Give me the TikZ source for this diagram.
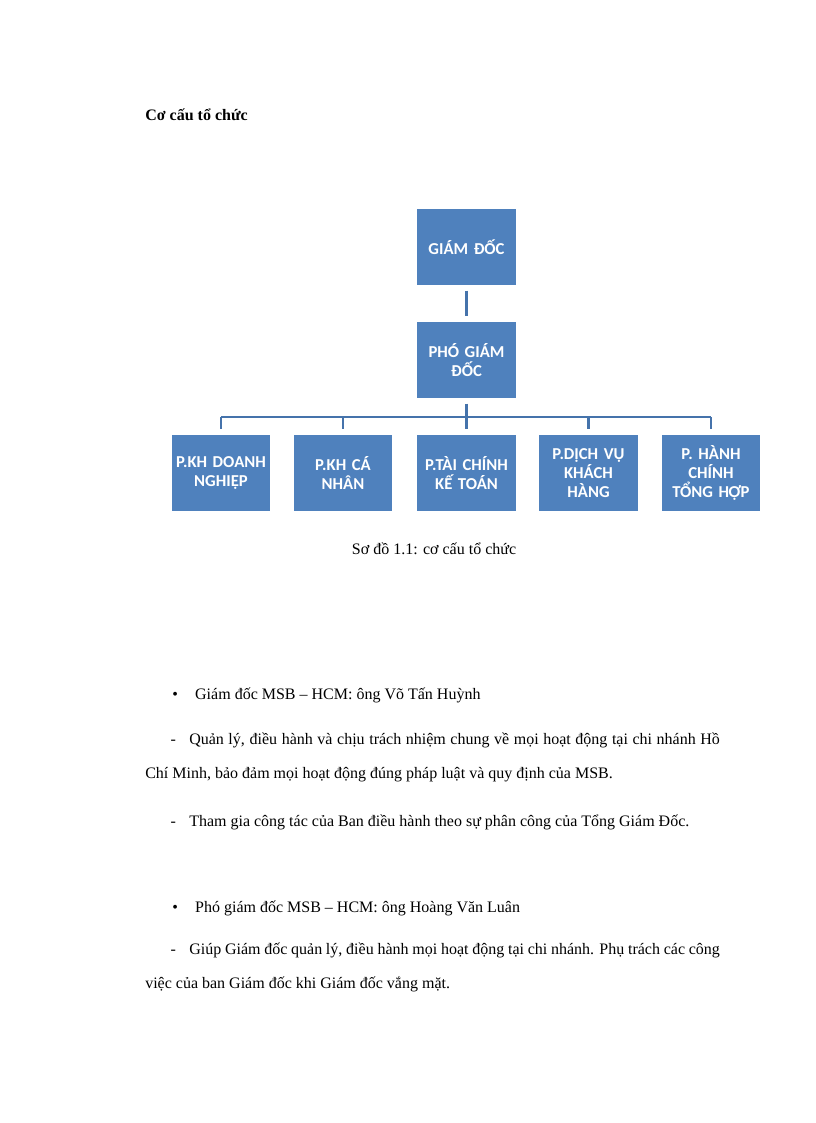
\documentclass[tikz,border=0pt]{standalone}
\usepackage{fontspec}
\setmainfont{Liberation Serif}
\newfontfamily\boxfont{Carlito}
\begin{document}
\begin{tikzpicture}[x=0.75pt,y=-0.75pt,
  org/.style={draw=none,fill=orgblue,text=white,font=\boxfont\bfseries\fontsize{12.5}{14}\selectfont,align=center,minimum width=73.5pt,minimum height=57pt,inner sep=1pt,text width=72pt},
  link/.style={draw=linkblue,line width=2.2pt},
  para/.style={anchor=north west,text width=431pt,align=justify,inner sep=0pt,font=\fontsize{12}{25.5}\selectfont}]
\definecolor{orgblue}{HTML}{4F81BD}
\definecolor{linkblue}{HTML}{4573AB}
\useasboundingbox (0,0) rectangle (816,1123);
\node[anchor=west,font=\bfseries\fontsize{12}{14}\selectfont,inner sep=0pt] (title) at (145,115) {Cơ cấu tổ chức};
\node[org] (gd) at (466.5,247) {GIÁM ĐỐC};
\node[org] (pgd) at (466.5,360) {PHÓ GIÁM ĐỐC};
\node[org] (b1) at (221,473) {P.KH DOANH NGHIỆP};
\node[org] (b2) at (343,473) {P.KH CÁ NHÂN};
\node[org] (b3) at (466.5,473) {P.TÀI CHÍNH KẾ TOÁN};
\node[org] (b4) at (588.5,473) {P.DỊCH VỤ KHÁCH HÀNG};
\node[org] (b5) at (711,473) {P. HÀNH CHÍNH TỔNG HỢP};
\draw[link] ([yshift=-4]gd.south) -- ([yshift=4]pgd.north);
\coordinate (bus) at (466.5,417);
\draw[link] ([yshift=-4]pgd.south) -- (bus);
\draw[link] (b1.north |- bus) -- (b5.north |- bus);
\foreach \b in {b1,b2,b3,b4,b5}{\draw[link] (\b.north |- bus) -- ([yshift=4]\b.north);}
\node[font=\fontsize{12}{14}\selectfont] (cap) at (434,549) {Sơ đồ 1.1: cơ cấu tổ chức};
\node[anchor=west,inner sep=0pt,font=\fontsize{12}{14}\selectfont] (l1) at (172,695) {•\hspace{13pt}Giám đốc MSB – HCM: ông Võ Tấn Huỳnh};
\node[para] (p1) at (145,733) {\hspace*{19pt}-\hspace{10pt}Quản lý, điều hành và chịu trách nhiệm chung về mọi hoạt động tại chi nhánh Hồ Chí Minh, bảo đảm mọi hoạt động đúng pháp luật và quy định của MSB.};
\node[para] (p2) at (145,815) {\hspace*{19pt}-\hspace{10pt}Tham gia công tác của Ban điều hành theo sự phân công của Tổng Giám Đốc.};
\node[anchor=west,inner sep=0pt,font=\fontsize{12}{14}\selectfont] (l2) at (172,908) {•\hspace{13pt}Phó giám đốc MSB – HCM: ông Hoàng Văn Luân};
\node[para] (p3) at (145,943) {\hspace*{19pt}-\hspace{10pt}Giúp Giám đốc quản lý, điều hành mọi hoạt động tại chi nhánh. Phụ trách các công việc của ban Giám đốc khi Giám đốc vắng mặt.};
\end{tikzpicture}
\end{document}
